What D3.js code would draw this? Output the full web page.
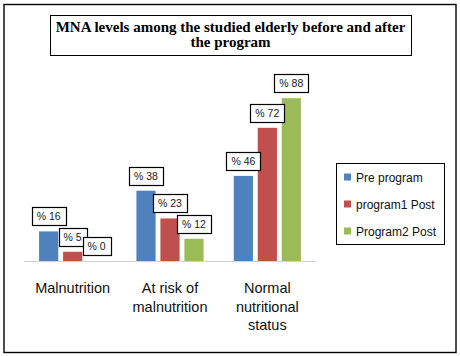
<!DOCTYPE html>
<html>
<head>
<meta charset="utf-8">
<script src="https://d3js.org/d3.v7.min.js"></script>
<style>
    body { margin: 0; background: #fff; }
    svg { display: block; }
</style>
</head>
<body>
<script>
// chart data
let categories = [["Malnutrition"], ["At risk of", "malnutrition"], ["Normal", "nutritional", "status"]];
let seriesNames = ["Pre program", "program1 Post", "Program2 Post"];
let prePogram = [16, 38, 46];
let post1 = [5, 23, 72];
let post2 = [0, 12, 88];
let titleLines = ["MNA levels among the studied elderly before and after", "the program"];

let colors = ["#4F81BD", "#C0504D", "#9BBB59"];
let seriesValues = [prePogram, post1, post2];

let width = 460, height = 356;
let svg = d3.select("body").append("svg").attr("width", width).attr("height", height);

// outer frame
svg.append("rect")
    .attr("x", 4).attr("y", 4.5)
    .attr("width", 452).attr("height", 348)
    .attr("fill", "white").attr("stroke", "black").attr("stroke-width", 1.4)

// title box
svg.append("rect")
    .attr("x", 50.5).attr("y", 15.5)
    .attr("width", 361).attr("height", 40)
    .attr("fill", "white").attr("stroke", "black").attr("stroke-width", 1)
svg.append("text")
    .attr("x", 230.5).attr("y", 32)
    .attr("text-anchor", "middle")
    .attr("font-family", "Liberation Serif")
    .attr("font-weight", "bold")
    .attr("font-size", "15px")
    .selectAll("tspan").data(titleLines).enter().append("tspan")
    .attr("x", 230.5)
    .attr("dy", (d, i) => i == 0 ? 0 : 15)
    .text(d => d)

let catKeys = categories.map(d => d.join(" "));
let xScale = d3.scaleBand().domain(catKeys).range([24, 316]).paddingInner(0.31).paddingOuter(0.155);
let xInner = d3.scaleBand().domain(seriesNames).range([0, xScale.bandwidth()]).paddingInner(0.2);
let yScale = d3.scaleLinear().domain([0, 100]).range([261, 76]);

// bars
let groups = svg.append("g").selectAll("g")
    .data(seriesNames)
    .enter().append("g")
    .attr("fill", (d, i) => colors[i])

groups.selectAll("rect")
    .data((s, si) => seriesValues[si].map((v, ci) => ({s: s, c: catKeys[ci], v: v})))
    .enter().append("rect")
    .attr("x", d => xScale(d.c) + xInner(d.s))
    .attr("width", xInner.bandwidth())
    .attr("y", d => yScale(d.v))
    .attr("height", d => yScale(0) - yScale(d.v))

// baseline
svg.append("line")
    .attr("x1", 24).attr("x2", 316)
    .attr("y1", 261.5).attr("y2", 261.5)
    .attr("stroke", "#d0d0d0").attr("stroke-width", 1)

// value labels in boxes
let labels = svg.append("g");
seriesNames.forEach(function(s, si) {
    seriesValues[si].forEach(function(v, ci) {
        let cx = xScale(catKeys[ci]) + xInner(s) + xInner.bandwidth() / 2;
        let bottom = yScale(v) - 6;
        let g = labels.append("g");
        let box = g.append("rect");
        let t = g.append("text")
            .attr("font-family", "Liberation Sans")
            .attr("font-size", "10.5px")
            .attr("fill", "#1a1a1a")
            .attr("text-anchor", "middle")
            .attr("x", cx)
            .attr("y", bottom - 5)
            .text("% " + v)
        let w = t.node().getComputedTextLength() + 10;
        box.attr("x", Math.round(cx - w / 2) + 0.5)
            .attr("y", Math.round(bottom - 18) + 0.5)
            .attr("width", Math.round(w))
            .attr("height", 18)
            .attr("fill", "white")
            .attr("stroke", "black")
            .attr("stroke-width", 1.2)
    })
})

// category labels
svg.append("g").selectAll("text")
    .data(categories)
    .enter().append("text")
    .attr("text-anchor", "middle")
    .attr("font-family", "Liberation Sans")
    .attr("font-size", "14.5px")
    .attr("fill", "#111")
    .attr("y", 293)
    .each(function(d, i) {
        let cx = xScale(catKeys[i]) + xScale.bandwidth() / 2;
        d3.select(this).selectAll("tspan").data(d).enter().append("tspan")
            .attr("x", cx)
            .attr("dy", (l, j) => j == 0 ? 0 : 18.5)
            .text(l => l)
    })

// legend
svg.append("rect")
    .attr("x", 336.5).attr("y", 163.5)
    .attr("width", 108).attr("height", 81)
    .attr("fill", "white").attr("stroke", "black").attr("stroke-width", 1)
let legend = svg.append("g").selectAll("g")
    .data(seriesNames)
    .enter().append("g")
    .attr("transform", (d, i) => "translate(344," + (177 + i * 27) + ")")
legend.append("rect")
    .attr("x", 0).attr("y", -3.5)
    .attr("width", 7).attr("height", 7)
    .attr("fill", (d, i) => colors[i])
legend.append("text")
    .attr("x", 12).attr("y", 4.5)
    .attr("font-family", "Liberation Sans")
    .attr("font-size", "12px")
    .attr("fill", "#111")
    .text(d => d)
</script>
</body>
</html>
